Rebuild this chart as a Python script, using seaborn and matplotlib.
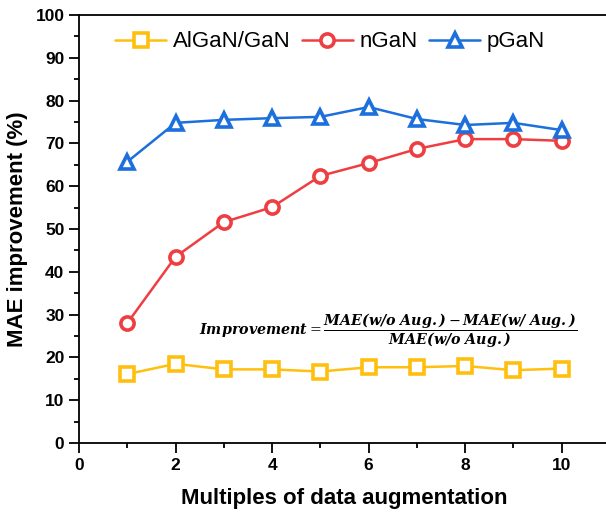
import matplotlib
matplotlib.use("Agg")
import matplotlib.pyplot as plt
from matplotlib.ticker import MultipleLocator
import seaborn as sns
import pandas as pd

multiples = [1, 2, 3, 4, 5, 6, 7, 8, 9, 10]
algan_gan = [16.1, 18.5, 17.2, 17.2, 16.7, 17.7, 17.7, 18.0, 17.0, 17.4]
ngan = [28.0, 43.5, 51.6, 55.1, 62.4, 65.4, 68.7, 71.0, 71.0, 70.6]
pgan = [65.7, 74.8, 75.5, 75.9, 76.2, 78.5, 75.7, 74.3, 74.8, 73.1]

series_names = ["AlGaN/GaN", "nGaN", "pGaN"]
series_values = [algan_gan, ngan, pgan]
colors = ["#FFBF0F", "#EF3E42", "#1C6FDC"]
markers = ["s", "o", "^"]

sns.set_style("ticks", {"axes.edgecolor": "black", "text.color": "black",
                        "axes.labelcolor": "black", "xtick.color": "black",
                        "ytick.color": "black"})
plt.rcParams['font.family'] = ['Liberation Sans', 'DejaVu Sans']
plt.rcParams['mathtext.fontset'] = 'dejavuserif'

fig = plt.figure(figsize=(6.06, 5.14), dpi=100)
# axes runs a bit past the right edge, like the cropped original
ax = fig.add_axes([79 / 606, (514 - 443) / 514, 531 / 606, 428 / 514])

for name, vals, c, m in zip(series_names, series_values, colors, markers):
    df = pd.DataFrame({"x": multiples, "y": vals})
    sns.lineplot(data=df, x="x", y="y", ax=ax, color=c, marker=m, label=name,
                 linewidth=1.8, markersize=9.5, markerfacecolor="white",
                 markeredgecolor=c, markeredgewidth=2.6)

ax.set_xlim(0, 11)
ax.set_ylim(0, 100)
ax.xaxis.set_major_locator(MultipleLocator(2))
ax.xaxis.set_minor_locator(MultipleLocator(1))
ax.yaxis.set_major_locator(MultipleLocator(10))
ax.yaxis.set_minor_locator(MultipleLocator(5))
ax.set_xticks([0, 2, 4, 6, 8, 10])
ax.tick_params(which="major", direction="out", length=7, width=1.3, labelsize=12.5)
ax.tick_params(which="minor", direction="out", length=3.5, width=1.3)
for lbl in ax.get_xticklabels() + ax.get_yticklabels():
    lbl.set_fontweight("bold")
for sp in ax.spines.values():
    sp.set_linewidth(1.3)

ax.set_xlabel("Multiples of data augmentation", fontsize=16, fontweight="bold", labelpad=11)
ax.set_ylabel("MAE improvement (%)", fontsize=16, fontweight="bold", labelpad=5)

ax.legend(loc="center", bbox_to_anchor=(0.473, 0.937), ncol=3, frameon=False,
          fontsize=16, handlelength=2.3, columnspacing=0.5, handletextpad=0.3)

ax.text(0.582, 0.262,
        r"$\mathbfit{Improvement} = \dfrac{\mathbfit{MAE(w/o\ Aug.)} - \mathbfit{MAE(w/\ Aug.)}}{\mathbfit{MAE(w/o\ Aug.)}}$",
        transform=ax.transAxes, ha="center", va="center", fontsize=10.3)

fig.savefig("out.png", dpi=100)
